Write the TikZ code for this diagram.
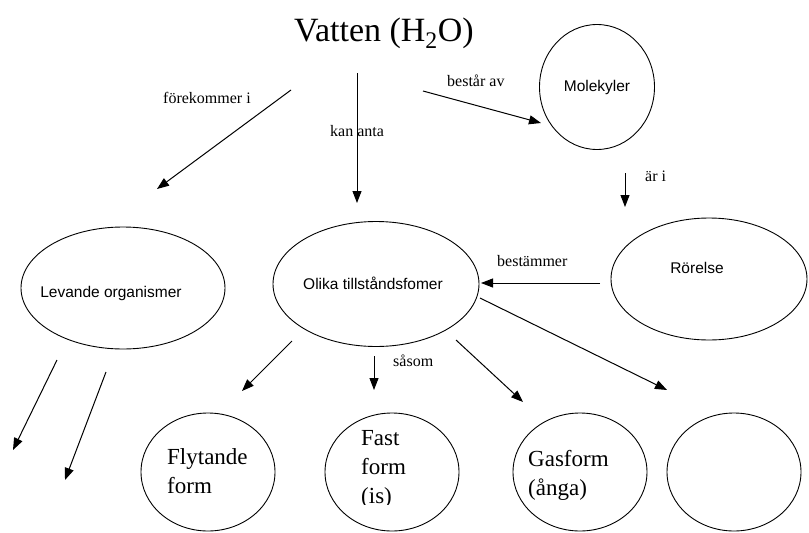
\documentclass[tikz,border=0pt]{standalone}
\usepackage{fontspec}
\setmainfont{Liberation Serif}
\setsansfont{Liberation Sans}
\usetikzlibrary{arrows.meta,shapes.geometric}
\tikzset{oval/.style={draw,ellipse,line width=0.9pt,inner sep=0pt}}
\tikzset{ring/.style={oval,minimum width=134pt,minimum height=118pt}}
\tikzset{lbl/.style={font=\fontsize{16}{19}\selectfont,inner sep=0pt,anchor=base west}}
\tikzset{ovtxt/.style={font=\sffamily\fontsize{15.5}{18}\selectfont,inner sep=0pt}}
\tikzset{formtxt/.style={font=\fontsize{23}{29}\selectfont,align=left,inner sep=0pt,anchor=base west}}
\tikzset{arr/.style={->,line width=1pt}}
\tikzset{>={Triangle[length=12pt,width=9pt]}}

\begin{document}
\begin{tikzpicture}[x=1pt,y=-1pt]
    \useasboundingbox (0,0) rectangle (809,533);

    \node (title) [font=\fontsize{34}{40}\selectfont,anchor=base,inner sep=0pt] at (384,41) {Vatten (H\textsubscript{2}O)};

    % upper ovals
    \node (mol) [oval,minimum width=115pt,minimum height=125pt] at (597,87) {};
    \node (olika) [oval,minimum width=206pt,minimum height=125pt] at (376,284) {};
    \node (lev) [oval,minimum width=204pt,minimum height=122pt] at (123,288) {};
    \node (ror) [oval,minimum width=196pt,minimum height=122pt] at (709,279) {};

    \node (moltxt) [ovtxt] at (mol.center) {Molekyler};
    \node (olikatxt) [ovtxt] at (373,283) {Olika tillståndsfomer};
    \node (levtxt) [ovtxt] at (111,293) {Levande organismer};
    \node (rortxt) [ovtxt] at (697,268) {Rörelse};

    % lower circles, last line of text is the base
    \node (fly) [ring] at (208,472) {};
    \node (fast) [ring] at (392,472) {};
    \node (gas) [ring] at (580,472) {};
    \node (tom) [ring] at (734,472) {};

    \node (flytxt) [formtxt] at (167,493) {Flytande\\form};
    \node (gastxt) [formtxt] at (528,495) {Gasform\\(ånga)};
    \begin{scope}
        \clip (300,400) rectangle (480,504);
        \node (fasttxt) [formtxt] at (361,503) {Fast\\form\\(is)};
    \end{scope}

    % arrow ends
    \coordinate (forS) at (291,90);  \coordinate (forE) at (157,189);
    \coordinate (kanS) at (357,73);  \coordinate (kanE) at (357,203);
    \coordinate (besS) at (423,91);  \coordinate (besE) at (541,123);
    \coordinate (ariS) at (625,173); \coordinate (ariE) at (625,207);
    \coordinate (bmS) at (600,283);  \coordinate (bmE) at (481,283);
    \coordinate (tomS) at (480,298); \coordinate (tomE) at (667,390);
    \coordinate (s1S) at (292,341);  \coordinate (s1E) at (242,391);
    \coordinate (s2S) at (374,356);  \coordinate (s2E) at (374,390);
    \coordinate (s3S) at (456,340);  \coordinate (s3E) at (523,402);
    \coordinate (l1S) at (57,360);   \coordinate (l1E) at (13,450);
    \coordinate (l2S) at (106,372);  \coordinate (l2E) at (65,480);

    \draw [arr] (forS) -- (forE);
    \draw [arr] (kanS) -- (kanE);
    \draw [arr] (besS) -- (besE);
    \draw [arr] (ariS) -- (ariE);
    \draw [arr] (bmS) -- (bmE);
    \draw [arr] (tomS) -- (tomE);
    \draw [arr] (s1S) -- (s1E);
    \draw [arr] (s2S) -- (s2E);
    \draw [arr] (s3S) -- (s3E);
    \draw [arr] (l1S) -- (l1E);
    \draw [arr] (l2S) -- (l2E);

    \node (forl) [lbl] at (163,103) {förekommer i};
    \node (kanl) [lbl] at (330,136) {kan anta};
    \node (besl) [lbl] at (447,86) {består av};
    \node (aril) [lbl] at (645,181) {är i};
    \node (bml) [lbl] at (497,266) {bestämmer};
    \node (sasl) [lbl] at (393,366) {såsom};
\end{tikzpicture}
\end{document}
